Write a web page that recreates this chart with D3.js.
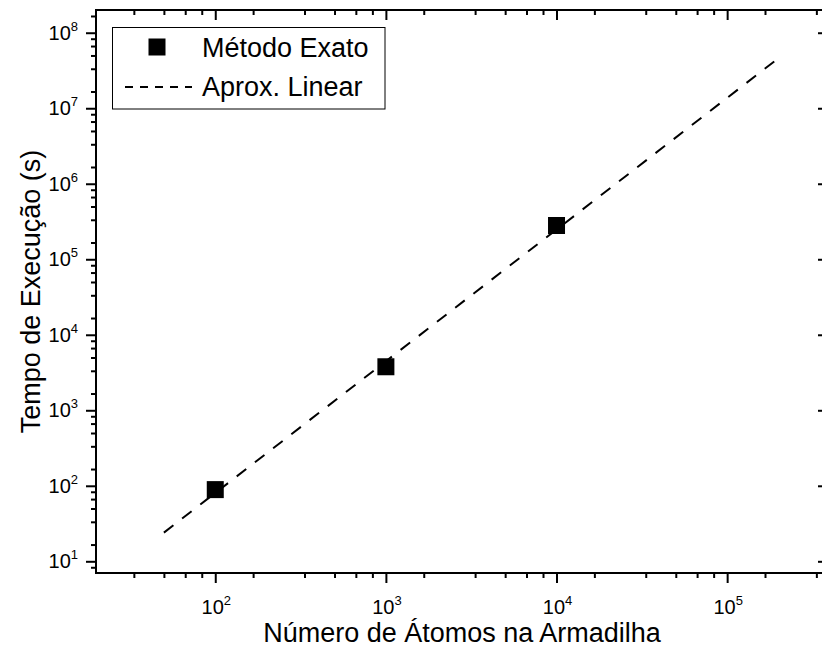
<!DOCTYPE html>
<html>
<head>
<meta charset="utf-8">
<script src="https://cdn.jsdelivr.net/npm/d3@7"></script>
<style>
  html, body { margin: 0; padding: 0; background: #fff; }
  svg { display: block; font-family: "Liberation Sans", Arial, Helvetica, sans-serif; }
</style>
</head>
<body>
<svg id="chart" width="822" height="653"></svg>
<script>
// Execution time of the exact method versus number of trapped atoms,
// with the power-law (linear in log-log) approximation.
const atoms = [100, 1000, 10000];
const runtime = [89, 3770, 280000];

const fitAtoms = [50, 200000];
const fitRuntime = [24, 46000000];

const seriesNames = ["Método Exato", "Aprox. Linear"];
const xTitle = "Número de Átomos na Armadilha";
const yTitle = "Tempo de Execução (s)";

const xDomain = [20, 390000];
const yDomain = [7, 2e8];
const xTickExps = [2, 3, 4, 5];
const yTickExps = [1, 2, 3, 4, 5, 6, 7, 8];

const svg = d3.select("#chart");
const L = 96, T = 10, R = 828, B = 573;

const x = d3.scaleLog().domain(xDomain).range([L, R]);
const y = d3.scaleLog().domain(yDomain).range([B, T]);

// minor ticks: five per decade, at sixths of the next power of ten
function minorTicks(domain) {
  const out = [];
  const lo = Math.floor(Math.log10(domain[0])) - 1;
  const hi = Math.ceil(Math.log10(domain[1]));
  for (let k = lo; k <= hi; k++) {
    for (let j = 1; j <= 5; j++) {
      const v = Math.pow(10, k + 1) * j / 6;
      if (v >= domain[0] && v <= domain[1]) out.push(v);
    }
  }
  return out;
}
const xMajor = xTickExps.map(e => Math.pow(10, e));
const yMajor = yTickExps.map(e => Math.pow(10, e));
const xMinor = minorTicks(xDomain);
const yMinor = minorTicks(yDomain);

function drawTicks(axisFn, scale, major, minor, transform) {
  const g = svg.append("g").attr("transform", transform);
  g.append("g").call(axisFn(scale).tickValues(major).tickSize(10).tickFormat(""));
  g.append("g").call(axisFn(scale).tickValues(minor).tickSize(5).tickFormat(""));
  g.selectAll(".domain").remove();
  g.selectAll(".tick line").attr("stroke", "#000").attr("stroke-width", 2);
}
drawTicks(d3.axisBottom, x, xMajor, xMinor, `translate(0,${B})`);
drawTicks(d3.axisBottom, x, xMajor, xMinor, `translate(0,${T})`);
drawTicks(d3.axisLeft, y, yMajor, yMinor, `translate(${L},0)`);
drawTicks(d3.axisLeft, y, yMajor, yMinor, `translate(${R},0)`);

// frame
svg.append("rect")
  .attr("x", L).attr("y", T).attr("width", R - L).attr("height", B - T)
  .attr("fill", "none").attr("stroke", "#000").attr("stroke-width", 2);

// power-of-ten tick labels
function powLabel(sel, e) {
  sel.append("tspan").text("10");
  sel.append("tspan").attr("font-size", 13).attr("dy", -9).text(String(e));
}
svg.append("g").selectAll("text").data(xTickExps).join("text")
  .attr("x", d => x(Math.pow(10, d)) + 1)
  .attr("y", 614)
  .attr("text-anchor", "middle")
  .attr("font-size", 20)
  .each(function(d) { powLabel(d3.select(this), d); });

svg.append("g").selectAll("text").data(yTickExps).join("text")
  .attr("x", 78)
  .attr("y", d => y(Math.pow(10, d)) + 7)
  .attr("text-anchor", "end")
  .attr("font-size", 20)
  .each(function(d) { powLabel(d3.select(this), d); });

// axis titles
svg.append("text")
  .attr("x", (L + R) / 2).attr("y", 642)
  .attr("text-anchor", "middle").attr("font-size", 27)
  .text(xTitle);
svg.append("text")
  .attr("transform", `translate(40,${(T + B) / 2}) rotate(-90)`)
  .attr("text-anchor", "middle").attr("font-size", 27)
  .text(yTitle);

// fitted line
const line = d3.line().x(d => x(d[0])).y(d => y(d[1]));
svg.append("path")
  .datum(d3.zip(fitAtoms, fitRuntime))
  .attr("d", line)
  .attr("fill", "none").attr("stroke", "#000").attr("stroke-width", 2)
  .attr("stroke-dasharray", "12,11");

// measured points
const sq = 17;
svg.append("g").selectAll("rect").data(d3.zip(atoms, runtime)).join("rect")
  .attr("x", d => x(d[0]) - sq / 2)
  .attr("y", d => y(d[1]) - sq / 2)
  .attr("width", sq).attr("height", sq)
  .attr("fill", "#000");

// legend
const lg = svg.append("g");
lg.append("rect")
  .attr("x", 112.5).attr("y", 27.5).attr("width", 272.5).attr("height", 81.5)
  .attr("fill", "#fff").attr("stroke", "#000").attr("stroke-width", 1);
lg.append("rect")
  .attr("x", 157 - sq / 2).attr("y", 47 - sq / 2).attr("width", sq).attr("height", sq)
  .attr("fill", "#000");
lg.append("line")
  .attr("x1", 125).attr("x2", 192).attr("y1", 87).attr("y2", 87)
  .attr("stroke", "#000").attr("stroke-width", 2).attr("stroke-dasharray", "8,7");
lg.selectAll("text").data(seriesNames).join("text")
  .attr("x", 202)
  .attr("y", (d, i) => i === 0 ? 57 : 96)
  .attr("font-size", 27)
  .text(d => d);
</script>
</body>
</html>
